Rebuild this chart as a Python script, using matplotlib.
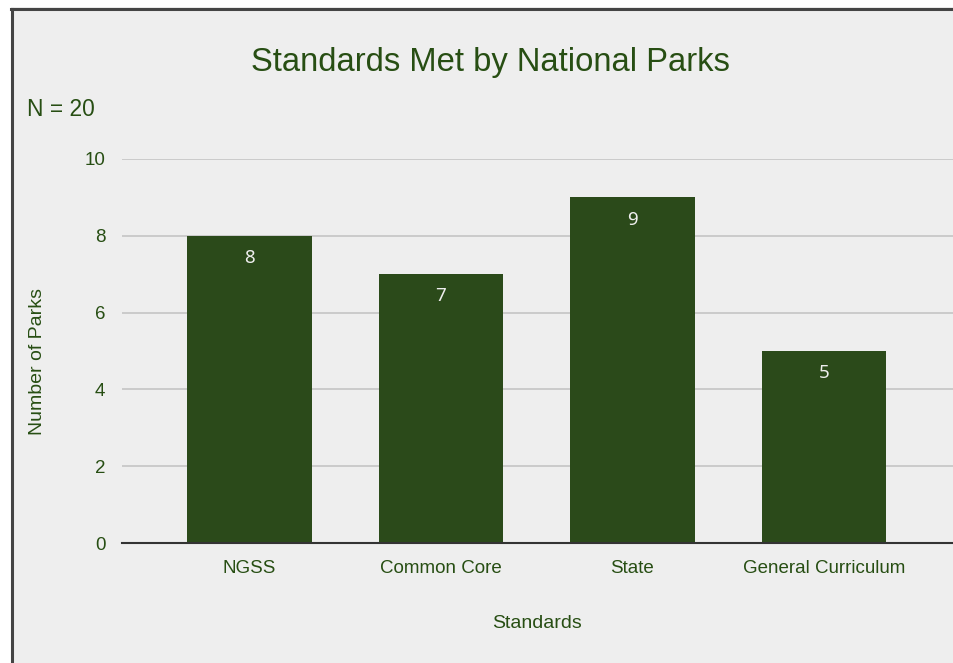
import matplotlib.pyplot as plt
from matplotlib.lines import Line2D
from matplotlib.patches import Rectangle

categories = ["NGSS", "Common Core", "State", "General Curriculum"]
parks = [8, 7, 9, 5]
yticks = [0, 2, 4, 6, 8, 10]

green = "#274e13"
bar_green = "#2b4a1a"
bg = "#eeeeee"

plt.rcParams['font.family'] = ['Liberation Sans', 'DejaVu Sans']

fig = plt.figure(figsize=(9.54, 6.63), dpi=100, facecolor=bg)

# white strips outside the card, dark border on left and top
W, H = 954, 663
fig.add_artist(Rectangle((0, 0), 11 / W, 1, transform=fig.transFigure,
                         facecolor="white", edgecolor="none", zorder=-5))
fig.add_artist(Rectangle((0, 1 - 7 / H), 1, 7 / H, transform=fig.transFigure,
                         facecolor="white", edgecolor="none", zorder=-5))
fig.add_artist(Line2D([12.5 / W, 12.5 / W], [0, 1 - 8.5 / H], transform=fig.transFigure,
                      color="#444444", linewidth=2.2, zorder=-4))
fig.add_artist(Line2D([11 / W, 1], [1 - 8.5 / H, 1 - 8.5 / H], transform=fig.transFigure,
                      color="#444444", linewidth=2.2, zorder=-4))

ax = fig.add_axes([122 / W, 1 - 543 / H, 1 - 122 / W, 384 / H])
ax.patch.set_visible(False)

x = range(len(categories))
bars = ax.bar(x, parks, width=0.65, color=bar_green, zorder=3)

for xi, v in zip(x, parks):
    ax.annotate(str(v), (xi, v), xytext=(0, -16), textcoords="offset points",
                ha="center", va="center", color="#eeeeee", fontsize=13.5,
                family=["Noto Sans", "DejaVu Sans"])

ax.set_xlim(-0.665, 3.68)
ax.set_ylim(0, 10)
ax.set_yticks(yticks)
ax.set_xticks(list(x))
ax.set_xticklabels(categories)
ax.grid(axis="y", color="#c8c8c8", linewidth=1.3, zorder=0)
ax.tick_params(length=0, colors=green, labelsize=13.5)
ax.tick_params(axis="x", pad=12)
ax.tick_params(axis="y", pad=12)
for s in ["top", "right", "left"]:
    ax.spines[s].set_visible(False)
ax.spines["bottom"].set_color("#333333")
ax.spines["bottom"].set_linewidth(1.5)
ax.spines["bottom"].set_zorder(4)

fig.text(490 / W, 1 - 62 / H, "Standards Met by National Parks",
         ha="center", va="center", fontsize=23.6, color=green)
fig.text(27 / W, 1 - 110 / H, "N = 20", ha="left", va="center",
         fontsize=16.4, color=green)
fig.text(38 / W, 1 - 362 / H, "Number of Parks", rotation=90,
         ha="center", va="center", fontsize=14, color=green)
fig.text(537 / W, 1 - 623 / H, "Standards", ha="center", va="center",
         fontsize=14, color=green)

plt.savefig("out.png", dpi=100, facecolor=fig.get_facecolor())
